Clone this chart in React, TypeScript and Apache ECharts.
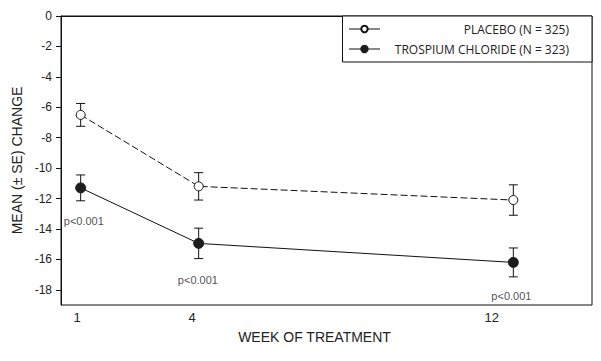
import React, { useEffect, useRef } from "react";
import * as echarts from "echarts";

const weeks = [1, 4, 12];
const placeboMean = [-6.5, -11.2, -12.1];
const placeboSE = [0.75, 0.9, 1.0];
const trospiumMean = [-11.3, -14.95, -16.2];
const trospiumSE = [0.85, 1.0, 0.95];
const yTicks = [0, -2, -4, -6, -8, -10, -12, -14, -16, -18];
const xTickLabels = ["1", "4", "12"];
const pLabelText = ["p<0.001", "p<0.001", "p<0.001"];
const pLabelX = [1.08, 3.98, 11.95];
const pLabelY = [-13.45, -17.33, -18.42];
const seriesNames = ["PLACEBO (N = 325)", "TROSPIUM CHLORIDE (N = 323)"];

const FONT = "'Liberation Sans', Arial, sans-serif";

export default function App() {
  const ref = useRef<HTMLDivElement>(null);
  useEffect(() => {
    document.body.style.margin = "0";
    const chart = echarts.init(ref.current!, null, { renderer: "svg" });
    const errRender = (params: any, api: any) => {
      const x = api.value(0);
      const m = api.value(1);
      const se = api.value(2);
      const top = api.coord([x, m + se]);
      const bot = api.coord([x, m - se]);
      const w = 4.5;
      const style = { stroke: "#111", lineWidth: 1 };
      return {
        type: "group",
        children: [
          { type: "line", shape: { x1: top[0], y1: top[1], x2: bot[0], y2: bot[1] }, style },
          { type: "line", shape: { x1: top[0] - w, y1: top[1], x2: top[0] + w, y2: top[1] }, style },
          { type: "line", shape: { x1: bot[0] - w, y1: bot[1], x2: bot[0] + w, y2: bot[1] }, style },
        ],
      };
    };
    const xPad = [7, 13, 43];
    const rich: any = {};
    xTickLabels.forEach((t, i) => {
      rich["l" + i] = { fontFamily: FONT, fontSize: 13, color: "#222", padding: [0, xPad[i], 0, 0] };
    });
    chart.setOption({
      animation: false,
      backgroundColor: "#fff",
      grid: {
        left: 61,
        top: 16,
        right: 9,
        bottom: 56,
        show: true,
        borderColor: "#111",
        borderWidth: 1,
        backgroundColor: "transparent",
      },
      legend: {
        data: seriesNames,
        orient: "vertical",
        right: 9,
        top: 16,
        itemWidth: 31,
        itemHeight: 8,
        itemGap: 6,
        padding: [6, 23, 6, 6],
        borderColor: "#111",
        borderWidth: 1,
        backgroundColor: "#fff",
        lineStyle: { type: "solid", color: "#111", width: 1 },
        formatter: (name: string) => `{r|${name}}`,
        textStyle: {
          fontFamily: "'Open Sans', sans-serif",
          fontSize: 12,
          color: "#222",
          rich: {
            r: {
              fontFamily: "'Open Sans', sans-serif",
              fontSize: 12,
              color: "#222",
              width: 184,
              align: "right",
              height: 14,
              lineHeight: 14,
            },
          },
        },
      },
      xAxis: {
        type: "value",
        min: 0.5,
        max: 14,
        name: "WEEK OF TREATMENT",
        nameLocation: "middle",
        nameGap: 25,
        nameTextStyle: { fontFamily: FONT, fontSize: 14, color: "#222", padding: [0, 24, 0, 0] },
        axisLine: { show: true, lineStyle: { color: "#111" } },
        axisTick: { show: false },
        splitLine: { show: false },
        axisLabel: {
          customValues: weeks,
          margin: 6,
          formatter: (v: number) => {
            const i = weeks.indexOf(v);
            return i >= 0 ? `{l${i}|${xTickLabels[i]}}` : "";
          },
          rich,
        },
      },
      yAxis: {
        type: "value",
        min: -19,
        max: 0,
        name: "MEAN (± SE) CHANGE",
        nameLocation: "middle",
        nameGap: 31,
        nameTextStyle: { fontFamily: FONT, fontSize: 14, color: "#222" },
        axisLine: { show: true, lineStyle: { color: "#111" } },
        axisTick: { show: true, customValues: yTicks, length: 5, lineStyle: { color: "#111" } },
        splitLine: { show: false },
        axisLabel: {
          customValues: yTicks,
          margin: 9,
          fontFamily: FONT,
          fontSize: 12,
          color: "#222",
        },
      },
      series: [
        {
          type: "custom",
          name: "errP",
          renderItem: errRender,
          data: weeks.map((w, i) => [w, placeboMean[i], placeboSE[i]]),
          z: 1,
        },
        {
          type: "custom",
          name: "errT",
          renderItem: errRender,
          data: weeks.map((w, i) => [w, trospiumMean[i], trospiumSE[i]]),
          z: 1,
        },
        {
          type: "line",
          name: seriesNames[0],
          data: weeks.map((w, i) => [w, placeboMean[i]]),
          symbol: "circle",
          symbolSize: 9,
          itemStyle: { color: "#fff", borderColor: "#111", borderWidth: 1 },
          lineStyle: { color: "#111", width: 1, type: [7, 3] },
          z: 3,
        },
        {
          type: "line",
          name: seriesNames[1],
          data: weeks.map((w, i) => [w, trospiumMean[i]]),
          symbol: "circle",
          symbolSize: 10,
          itemStyle: { color: "#1c1c1c", borderColor: "#1c1c1c", borderWidth: 1 },
          lineStyle: { color: "#111", width: 1, type: "solid" },
          z: 3,
        },
        {
          type: "scatter",
          name: "pvals",
          symbol: "circle",
          symbolSize: 1,
          itemStyle: { color: "rgba(0,0,0,0)" },
          data: pLabelX.map((x, i) => ({ value: [x, pLabelY[i]], name: pLabelText[i] })),
          label: {
            show: true,
            position: [0.5, 0.5],
            align: "center",
            verticalAlign: "middle",
            formatter: (p: any) => p.name,
            fontFamily: FONT,
            fontSize: 11,
            color: "#222222",
            textBorderWidth: 0,
          },
          silent: true,
          z: 4,
        },
      ],
    });
    return () => chart.dispose();
  }, []);
  return (
    <div
      ref={ref}
      style={{ position: "fixed", left: 0, top: 0, width: 601, height: 361 }}
    />
  );
}
